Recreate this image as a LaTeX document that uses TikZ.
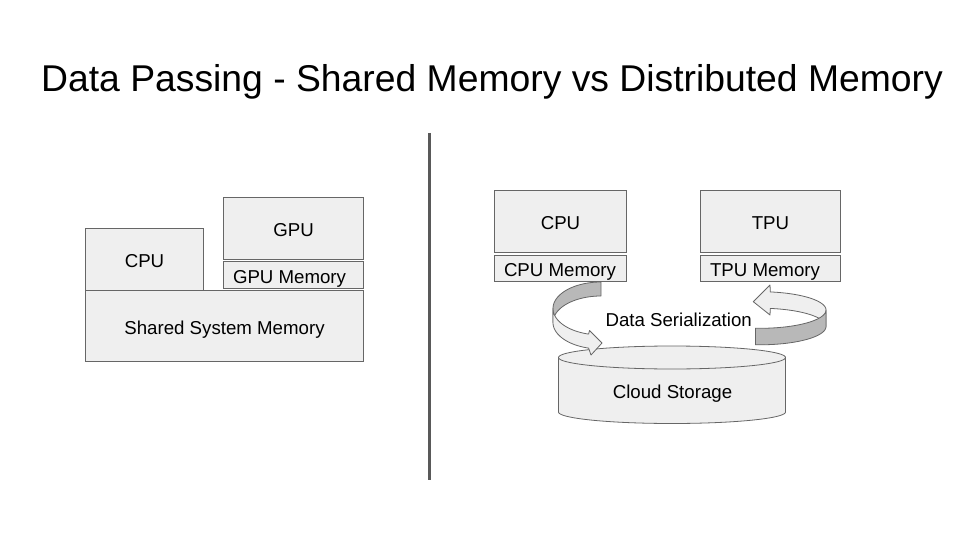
\documentclass[tikz,border=0pt]{standalone}
\usepackage{fontspec}
\setmainfont{Liberation Sans}
\definecolor{boxfill}{HTML}{EFEFEF}
\definecolor{boxline}{HTML}{666666}
\definecolor{ribbon}{HTML}{B8B8B8}
\definecolor{divider}{HTML}{595959}
\newcommand\lblfont{\fontsize{18.67}{22}\selectfont}
\newcommand\memtxt[2]{\makebox[#1][l]{\hspace{9.5pt}#2}}
\begin{document}
\begin{tikzpicture}[x=1pt,y=-1pt,
  box/.style={draw=boxline, fill=boxfill, line width=1pt, inner sep=0pt,
    anchor=north west, font=\lblfont, text height=16.8pt, text depth=0pt},
  shapeline/.style={draw=boxline, line width=0.8pt, line join=round},
  lbl/.style={font=\lblfont, inner sep=0pt, text height=13.4pt, text depth=0pt}]
\fill[white] (0,0) rectangle (960,540);
\path[use as bounding box] (0,0) rectangle (960,540);

% title
\node (title) [anchor=base, font=\fontsize{37.3}{45}\selectfont, inner sep=0pt] at (492,91.5)
  {Data Passing - Shared Memory vs Distributed Memory};

% divider
\coordinate (divtop) at (429.3,133);
\coordinate (divbot) at (429.3,480);
\draw[divider, line width=3pt] (divtop) -- (divbot);

% left: shared memory
\node (lcpu) [box, minimum width=118pt, minimum height=62pt] at (85,228) {CPU};
\node (gpu) [box, minimum width=140pt, minimum height=62pt] at (223,197) {GPU};
\node (gpumem) [box, minimum width=140pt, minimum height=27pt] at (223,261) {\memtxt{140pt}{GPU Memory}};
\node (shared) [box, minimum width=278pt, minimum height=71pt] at (85,290) {Shared System Memory};

% right: distributed memory
\node (rcpu) [box, minimum width=132pt, minimum height=62pt] at (494,190) {CPU};
\node (cpumem) [box, minimum width=132pt, minimum height=26pt] at (494,255) {\memtxt{132pt}{CPU Memory}};
\node (tpu) [box, minimum width=140pt, minimum height=62pt] at (700,190) {TPU};
\node (tpumem) [box, minimum width=140pt, minimum height=26pt] at (700,255) {\memtxt{140pt}{TPU Memory}};

% cloud storage cylinder
\filldraw[shapeline, fill=boxfill] (558.5,357.5)
  -- plot[domain=180:360, samples=60] ({672+113.5*cos(\x)},{412-11.5*sin(\x)})
  -- (785.5,357.5) -- cycle;
\filldraw[shapeline, fill=boxfill]
  plot[domain=0:360, samples=90] ({672+113.5*cos(\x)},{357.5-11.5*sin(\x)}) -- cycle;
\node (cloud) [lbl] at (672.5,392) {Cloud Storage};

% left curved arrow (CPU memory -> storage)
\filldraw[shapeline, fill=ribbon]
  plot[domain=90:180, samples=40] ({601+48*cos(\x)},{308.5-26.5*sin(\x)})
  -- plot[domain=180:90, samples=40] ({601+48*cos(\x)},{322.5-26.5*sin(\x)})
  -- cycle;
\filldraw[shapeline, fill=boxfill]
  plot[domain=180:255, samples=40] ({601+48*cos(\x)},{308.5-26.5*sin(\x)})
  -- (589.5,330.5) -- (602,343) -- (591,355)
  -- plot[domain=255:180, samples=40] ({601+48*cos(\x)},{322.5-26.5*sin(\x)})
  -- cycle;

% right curved arrow (storage -> TPU memory)
\filldraw[shapeline, fill=boxfill]
  plot[domain=0:81, samples=40] ({760+66*cos(\x)},{310-18.3*sin(\x)})
  -- (770,285) -- (753.3,301.7) -- (770,315)
  -- plot[domain=81:0, samples=40] ({760+66*cos(\x)},{326.5-18.3*sin(\x)})
  -- cycle;
\filldraw[shapeline, fill=ribbon]
  plot[domain=0:-94, samples=40] ({760+66*cos(\x)},{310-18.3*sin(\x)})
  -- plot[domain=-94:0, samples=40] ({760+66*cos(\x)},{326.5-18.3*sin(\x)})
  -- cycle;

\node (serial) [lbl] at (678.7,319.7) {Data Serialization};
\end{tikzpicture}
\end{document}
